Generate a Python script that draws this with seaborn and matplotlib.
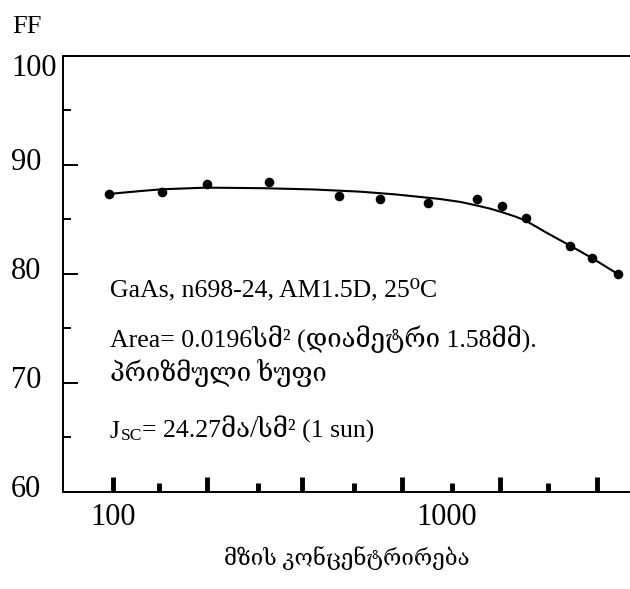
import matplotlib
matplotlib.use("Agg")
import matplotlib.pyplot as plt
import matplotlib.transforms as mtransforms
from matplotlib.ticker import FixedLocator, NullFormatter, NullLocator
import pandas as pd
import seaborn as sns

# Measured fill factor vs. solar concentration (suns)
concentration = [97, 140, 191, 292, 475, 630, 879, 1232, 1464, 1720, 2335, 2723, 3243]
fill_factor = [87.34, 87.55, 88.26, 88.44, 87.18, 86.85, 86.49, 86.85, 86.27, 85.11, 82.6, 81.44, 80.0]

# Hand-drawn trend through the measurements
trend_concentration = [97, 120, 140, 190, 280, 400, 550, 700, 952, 1100, 1232, 1350,
                       1464, 1600, 1720, 1982, 2335, 2723, 3243]
trend_ff = [87.34, 87.6, 87.77, 87.92, 87.87, 87.75, 87.55, 87.3, 86.88, 86.6, 86.27, 85.98,
            85.66, 85.27, 84.89, 83.8, 82.6, 81.44, 80.0]

y_ticks = [60, 70, 80, 90, 100]
y_tick_labels = ["60", "70", "80", "90", "100"]
x_label_ticks = [100, 1000]
x_tick_labels = ["100", "1000"]

info_lines = [
    "GaAs, n698-24, AM1.5D, 25\u2070C",
    "Area= 0.0196სმ\u00b2 (დიამეტრი 1.58მმ).",
    "პრიზმული ხუფი",
]
jsc_symbol = "J"
jsc_subscript = "SC"
jsc_rest = "= 24.27მა/სმ\u00b2 (1 sun)"
x_title = "მზის კონცენტრირება"
y_title = "FF"

points = pd.DataFrame({"conc": concentration, "ff": fill_factor})
trend = pd.DataFrame({"conc": trend_concentration, "ff": trend_ff})

sns.set_theme(style="white")
plt.rcParams["font.family"] = ["Liberation Serif", "DejaVu Serif"]
plt.rcParams["axes.unicode_minus"] = False

fig = plt.figure(figsize=(6.3, 5.89), dpi=100)
fig.patch.set_facecolor("white")
ax = fig.add_axes([0.1, 0.1647, 0.9, 0.7403])

sns.lineplot(data=trend, x="conc", y="ff", ax=ax, color="black", linewidth=1.5,
             estimator=None, sort=False)
sns.scatterplot(data=points, x="conc", y="ff", ax=ax, color="black", s=48,
                linewidth=0, zorder=3)

ax.set_xscale("log")
ax.set_xlim(70.8, 3530)
ax.set_ylim(60, 100)
ax.set_xlabel("")
ax.set_ylabel("")

for side in ["left", "bottom", "top"]:
    ax.spines[side].set_color("black")
    ax.spines[side].set_linewidth(1.4)
ax.spines["right"].set_visible(False)

# Decorative inward ticks along the concentration axis (alternating tall/short)
tall_marks = [100, 191, 368, 734, 1443, 2802]
short_marks = [137, 272, 527, 1034, 2000]
ax.xaxis.set_major_locator(FixedLocator(tall_marks))
ax.xaxis.set_minor_locator(FixedLocator(short_marks))
ax.xaxis.set_major_formatter(NullFormatter())
ax.xaxis.set_minor_formatter(NullFormatter())
ax.tick_params(axis="x", which="major", direction="in", length=10.8, width=3.5,
               color="black", bottom=True, top=False)
ax.tick_params(axis="x", which="minor", direction="in", length=6.8, width=3.5,
               color="black", bottom=True, top=False)

# Labelled decades on a secondary axis
sec = ax.secondary_xaxis("bottom")
sec.set_xticks(x_label_ticks, labels=x_tick_labels)
sec.xaxis.set_minor_locator(NullLocator())
sec.tick_params(axis="x", length=0, pad=8, labelsize=22, labelcolor="black")
sec.spines["bottom"].set_visible(False)
sec.set_xlabel(x_title, fontsize=16, labelpad=10, color="black")

ax.yaxis.set_major_locator(FixedLocator(y_ticks))
ax.set_yticklabels(y_tick_labels)
ax.yaxis.set_minor_locator(FixedLocator([65, 75, 85, 95]))
ax.tick_params(axis="y", which="major", direction="in", length=10.8, width=1.4,
               color="black", left=True, right=False, pad=37.4, labelsize=22,
               labelcolor="black")
ax.tick_params(axis="y", which="minor", direction="in", length=5.8, width=1.4,
               color="black", left=True, right=False)
ylabels = ax.get_yticklabels()
for lab in ylabels:
    lab.set_horizontalalignment("left")
    lab.set_transform(lab.get_transform() +
                      mtransforms.ScaledTranslation(0, 0.06, fig.dpi_scale_trans))
ylabels[-1].set_transform(ylabels[-1].get_transform() +
                          mtransforms.ScaledTranslation(0, -0.15, fig.dpi_scale_trans))

fig.text(12 / 630, 1 - 33 / 589, y_title, fontsize=19, va="baseline", color="black")

# Measurement conditions
baselines = [296, 347, 381]
for text, base in zip(info_lines, baselines):
    fig.text(110 / 630, 1 - base / 589, text, fontsize=18.5, va="baseline", color="black")

j = fig.text(110 / 630, 1 - 438 / 589, jsc_symbol, fontsize=18.5, va="baseline", color="black")
sub = ax.annotate(jsc_subscript, xy=(1, 0), xycoords=j, xytext=(0.3, -0.8),
                  textcoords="offset points", fontsize=12.5, va="bottom", color="black")
ax.annotate(jsc_rest, xy=(1, 0), xycoords=(sub, j), xytext=(0.3, 0),
            textcoords="offset points", fontsize=18.5, va="bottom", color="black")

fig.savefig("out.png", dpi=100, facecolor="white")
